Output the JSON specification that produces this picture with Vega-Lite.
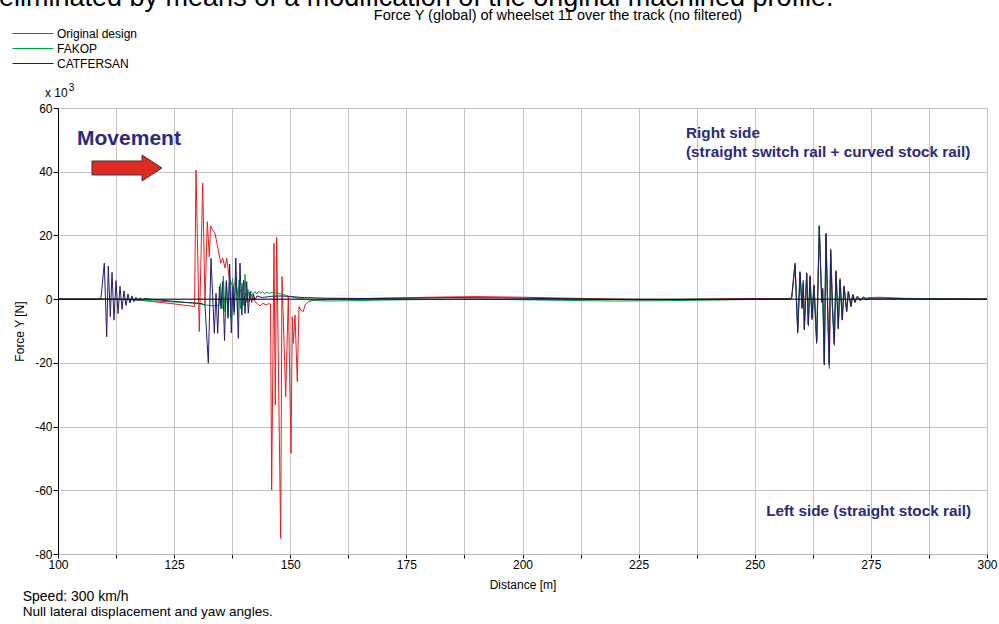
{
"$schema": "https://vega.github.io/schema/vega-lite/v6.json",
"autosize": {"type": "none"},
"width": 929, "height": 446,
"padding": {"left": 58, "top": 108, "right": 12, "bottom": 70},
"background": "white",
"config": {"font": "Liberation Sans", "view": {"stroke": null}},
"datasets": {
"series": [
{"series":"Original design","distance":100,"force":0},{"series":"Original design","distance":110,"force":0},{"series":"Original design","distance":115,"force":0},{"series":"Original design","distance":120,"force":-0.7},{"series":"Original design","distance":125,"force":-1.5},{"series":"Original design","distance":129.4,"force":-2.3},{"series":"Original design","distance":129.71,"force":40.5},{"series":"Original design","distance":130.42,"force":-10.2},{"series":"Original design","distance":131.15,"force":36.4},{"series":"Original design","distance":131.65,"force":-1.9},{"series":"Original design","distance":132.14,"force":24.3},{"series":"Original design","distance":132.57,"force":13.3},{"series":"Original design","distance":132.83,"force":23.0},{"series":"Original design","distance":133.3,"force":21.7},{"series":"Original design","distance":133.8,"force":20.7},{"series":"Original design","distance":134.51,"force":15.4},{"series":"Original design","distance":135.03,"force":11.3},{"series":"Original design","distance":135.46,"force":12.9},{"series":"Original design","distance":135.95,"force":9.8},{"series":"Original design","distance":136.32,"force":12.9},{"series":"Original design","distance":136.88,"force":6.6},{"series":"Original design","distance":137.61,"force":3.9},{"series":"Original design","distance":138.26,"force":5.5},{"series":"Original design","distance":138.82,"force":0.7},{"series":"Original design","distance":139.4,"force":3.0},{"series":"Original design","distance":139.94,"force":-0.5},{"series":"Original design","distance":140.47,"force":2.0},{"series":"Original design","distance":141.01,"force":-1.0},{"series":"Original design","distance":141.7,"force":1.5},{"series":"Original design","distance":142.41,"force":-0.8},{"series":"Original design","distance":142.95,"force":-1.5},{"series":"Original design","distance":143.49,"force":-2.1},{"series":"Original design","distance":144.13,"force":-1.3},{"series":"Original design","distance":144.78,"force":-1.8},{"series":"Original design","distance":145.43,"force":-1.4},{"series":"Original design","distance":145.75,"force":-1.6},{"series":"Original design","distance":146.0,"force":-59.9},{"series":"Original design","distance":146.5,"force":17.5},{"series":"Original design","distance":146.78,"force":-33.2},{"series":"Original design","distance":147.08,"force":19.4},{"series":"Original design","distance":147.94,"force":-75.1},{"series":"Original design","distance":148.22,"force":7.1},{"series":"Original design","distance":149.02,"force":-30.6},{"series":"Original design","distance":149.58,"force":1.0},{"series":"Original design","distance":150.16,"force":-48.4},{"series":"Original design","distance":150.44,"force":-5.5},{"series":"Original design","distance":150.66,"force":-13.9},{"series":"Original design","distance":151.02,"force":-5.0},{"series":"Original design","distance":151.52,"force":-25.9},{"series":"Original design","distance":151.88,"force":-2.4},{"series":"Original design","distance":152.25,"force":-3.4},{"series":"Original design","distance":152.81,"force":-3.9},{"series":"Original design","distance":153.18,"force":-1.8},{"series":"Original design","distance":153.89,"force":-0.8},{"series":"Original design","distance":154.96,"force":-0.3},{"series":"Original design","distance":160,"force":0},{"series":"Original design","distance":170,"force":0.3},{"series":"Original design","distance":180,"force":0.6},{"series":"Original design","distance":190,"force":0.8},{"series":"Original design","distance":200,"force":0.6},{"series":"Original design","distance":210,"force":0.3},{"series":"Original design","distance":220,"force":0},{"series":"Original design","distance":230,"force":-0.2},{"series":"Original design","distance":240,"force":0},{"series":"Original design","distance":250,"force":0.2},{"series":"Original design","distance":257.62,"force":0.2},{"series":"Original design","distance":257.98,"force":0.5},{"series":"Original design","distance":258.7,"force":10.5},{"series":"Original design","distance":259.28,"force":-9.5},{"series":"Original design","distance":259.77,"force":8.0},{"series":"Original design","distance":260.2,"force":-2.5},{"series":"Original design","distance":260.48,"force":5.5},{"series":"Original design","distance":260.7,"force":-9.0},{"series":"Original design","distance":261.21,"force":8.3},{"series":"Original design","distance":261.56,"force":-8.5},{"series":"Original design","distance":261.92,"force":7.5},{"series":"Original design","distance":262.35,"force":-6.5},{"series":"Original design","distance":262.78,"force":4.5},{"series":"Original design","distance":263.36,"force":-13.0},{"series":"Original design","distance":263.92,"force":22.0},{"series":"Original design","distance":264.44,"force":-0.5},{"series":"Original design","distance":264.65,"force":3.5},{"series":"Original design","distance":265.0,"force":-20.0},{"series":"Original design","distance":265.36,"force":20.0},{"series":"Original design","distance":265.75,"force":-4.5},{"series":"Original design","distance":266.07,"force":-21.8},{"series":"Original design","distance":266.37,"force":15.8},{"series":"Original design","distance":266.76,"force":-2.5},{"series":"Original design","distance":267.15,"force":-14.5},{"series":"Original design","distance":267.52,"force":9.0},{"series":"Original design","distance":268.01,"force":-9.0},{"series":"Original design","distance":268.38,"force":6.5},{"series":"Original design","distance":268.87,"force":-6.3},{"series":"Original design","distance":269.24,"force":4.2},{"series":"Original design","distance":269.82,"force":-3.6},{"series":"Original design","distance":270.17,"force":2.5},{"series":"Original design","distance":270.75,"force":-2.0},{"series":"Original design","distance":271.12,"force":1.6},{"series":"Original design","distance":271.61,"force":-0.7},{"series":"Original design","distance":272.11,"force":1.0},{"series":"Original design","distance":272.69,"force":-0.1},{"series":"Original design","distance":273.4,"force":0.7},{"series":"Original design","distance":273.98,"force":0.3},{"series":"Original design","distance":274.84,"force":0.5},{"series":"Original design","distance":277,"force":0.6},{"series":"Original design","distance":280,"force":0.3},{"series":"Original design","distance":290,"force":0.1},{"series":"Original design","distance":300,"force":0},

{"series":"FAKOP","distance":100,"force":0},{"series":"FAKOP","distance":110,"force":0},{"series":"FAKOP","distance":115,"force":-0.2},{"series":"FAKOP","distance":120,"force":-0.5},{"series":"FAKOP","distance":125,"force":-0.9},{"series":"FAKOP","distance":129.5,"force":-1.2},{"series":"FAKOP","distance":131.6,"force":-1.8},{"series":"FAKOP","distance":133.5,"force":-2.1},{"series":"FAKOP","distance":134.66,"force":-2.0},{"series":"FAKOP","distance":134.98,"force":5.0},{"series":"FAKOP","distance":135.31,"force":-3.0},{"series":"FAKOP","distance":135.59,"force":7.2},{"series":"FAKOP","distance":135.95,"force":-4.0},{"series":"FAKOP","distance":136.28,"force":6.0},{"series":"FAKOP","distance":136.6,"force":-5.0},{"series":"FAKOP","distance":136.92,"force":5.5},{"series":"FAKOP","distance":137.24,"force":-6.0},{"series":"FAKOP","distance":137.57,"force":6.5},{"series":"FAKOP","distance":137.89,"force":-5.0},{"series":"FAKOP","distance":138.32,"force":7.0},{"series":"FAKOP","distance":138.64,"force":-4.0},{"series":"FAKOP","distance":138.97,"force":6.0},{"series":"FAKOP","distance":139.29,"force":-3.0},{"series":"FAKOP","distance":139.61,"force":5.0},{"series":"FAKOP","distance":139.94,"force":-2.0},{"series":"FAKOP","distance":140.26,"force":7.8},{"series":"FAKOP","distance":140.58,"force":-1.0},{"series":"FAKOP","distance":140.9,"force":3.0},{"series":"FAKOP","distance":141.23,"force":0.0},{"series":"FAKOP","distance":141.55,"force":2.5},{"series":"FAKOP","distance":142.0,"force":1.4},{"series":"FAKOP","distance":142.4,"force":2.4},{"series":"FAKOP","distance":142.8,"force":1.6},{"series":"FAKOP","distance":143.2,"force":2.5},{"series":"FAKOP","distance":143.6,"force":1.8},{"series":"FAKOP","distance":144.0,"force":2.4},{"series":"FAKOP","distance":144.5,"force":1.7},{"series":"FAKOP","distance":145.0,"force":2.2},{"series":"FAKOP","distance":145.5,"force":1.8},{"series":"FAKOP","distance":146.0,"force":2.1},{"series":"FAKOP","distance":147.0,"force":1.9},{"series":"FAKOP","distance":148.0,"force":1.6},{"series":"FAKOP","distance":149.0,"force":1.2},{"series":"FAKOP","distance":150.0,"force":0.8},{"series":"FAKOP","distance":151.0,"force":0.5},{"series":"FAKOP","distance":152.0,"force":0.2},{"series":"FAKOP","distance":153.0,"force":0.0},{"series":"FAKOP","distance":155.0,"force":-0.4},{"series":"FAKOP","distance":158.0,"force":-0.6},{"series":"FAKOP","distance":162.0,"force":-0.5},{"series":"FAKOP","distance":170.0,"force":-0.3},{"series":"FAKOP","distance":180.0,"force":-0.1},{"series":"FAKOP","distance":190.0,"force":0.0},{"series":"FAKOP","distance":200.0,"force":-0.2},{"series":"FAKOP","distance":210.0,"force":-0.4},{"series":"FAKOP","distance":220.0,"force":-0.6},{"series":"FAKOP","distance":230.0,"force":-0.5},{"series":"FAKOP","distance":240.0,"force":-0.3},{"series":"FAKOP","distance":250.0,"force":-0.1},{"series":"FAKOP","distance":257.57,"force":0.1},{"series":"FAKOP","distance":257.93,"force":0.6},{"series":"FAKOP","distance":258.65,"force":10.8},{"series":"FAKOP","distance":259.23,"force":-10.0},{"series":"FAKOP","distance":259.72,"force":8.2},{"series":"FAKOP","distance":260.15,"force":-2.0},{"series":"FAKOP","distance":260.43,"force":6.0},{"series":"FAKOP","distance":260.65,"force":-9.2},{"series":"FAKOP","distance":261.16,"force":7.6},{"series":"FAKOP","distance":261.51,"force":-7.8},{"series":"FAKOP","distance":261.87,"force":6.8},{"series":"FAKOP","distance":262.3,"force":-5.5},{"series":"FAKOP","distance":262.73,"force":4.5},{"series":"FAKOP","distance":263.31,"force":-13.5},{"series":"FAKOP","distance":263.87,"force":23.2},{"series":"FAKOP","distance":264.39,"force":-0.5},{"series":"FAKOP","distance":264.6,"force":3.2},{"series":"FAKOP","distance":264.95,"force":-20.2},{"series":"FAKOP","distance":265.31,"force":20.4},{"series":"FAKOP","distance":265.7,"force":-4.5},{"series":"FAKOP","distance":266.02,"force":-20.8},{"series":"FAKOP","distance":266.32,"force":15.0},{"series":"FAKOP","distance":266.71,"force":-2.5},{"series":"FAKOP","distance":267.1,"force":-14.2},{"series":"FAKOP","distance":267.47,"force":8.8},{"series":"FAKOP","distance":267.96,"force":-9.4},{"series":"FAKOP","distance":268.33,"force":6.2},{"series":"FAKOP","distance":268.82,"force":-6.6},{"series":"FAKOP","distance":269.19,"force":4.0},{"series":"FAKOP","distance":269.77,"force":-4.0},{"series":"FAKOP","distance":270.12,"force":2.4},{"series":"FAKOP","distance":270.7,"force":-2.2},{"series":"FAKOP","distance":271.07,"force":1.5},{"series":"FAKOP","distance":271.56,"force":-0.8},{"series":"FAKOP","distance":272.06,"force":0.9},{"series":"FAKOP","distance":272.64,"force":-0.2},{"series":"FAKOP","distance":273.35,"force":0.6},{"series":"FAKOP","distance":273.93,"force":0.2},{"series":"FAKOP","distance":274.8,"force":0.4},{"series":"FAKOP","distance":278,"force":0.5},{"series":"FAKOP","distance":282,"force":0.2},{"series":"FAKOP","distance":290,"force":0.1},{"series":"FAKOP","distance":300,"force":0},

{"series":"CATFERSAN","distance":100,"force":0},{"series":"CATFERSAN","distance":108.5,"force":0},{"series":"CATFERSAN","distance":109.26,"force":0.4},{"series":"CATFERSAN","distance":109.97,"force":11.3},{"series":"CATFERSAN","distance":110.48,"force":-11.8},{"series":"CATFERSAN","distance":110.83,"force":10.4},{"series":"CATFERSAN","distance":111.26,"force":-5.5},{"series":"CATFERSAN","distance":111.63,"force":8.4},{"series":"CATFERSAN","distance":112.06,"force":-6.6},{"series":"CATFERSAN","distance":112.49,"force":5.8},{"series":"CATFERSAN","distance":112.92,"force":-4.5},{"series":"CATFERSAN","distance":113.35,"force":4.0},{"series":"CATFERSAN","distance":113.78,"force":-3.2},{"series":"CATFERSAN","distance":114.21,"force":2.6},{"series":"CATFERSAN","distance":114.64,"force":-2.0},{"series":"CATFERSAN","distance":115.07,"force":1.6},{"series":"CATFERSAN","distance":115.5,"force":-1.2},{"series":"CATFERSAN","distance":115.93,"force":1.0},{"series":"CATFERSAN","distance":116.36,"force":-0.8},{"series":"CATFERSAN","distance":116.79,"force":0.6},{"series":"CATFERSAN","distance":117.22,"force":-0.5},{"series":"CATFERSAN","distance":117.65,"force":0.4},{"series":"CATFERSAN","distance":118.08,"force":-0.3},{"series":"CATFERSAN","distance":118.73,"force":0.2},{"series":"CATFERSAN","distance":119.81,"force":0},{"series":"CATFERSAN","distance":122,"force":-0.3},{"series":"CATFERSAN","distance":125,"force":-0.7},{"series":"CATFERSAN","distance":128,"force":-1.1},{"series":"CATFERSAN","distance":131.0,"force":-1.4},{"series":"CATFERSAN","distance":131.65,"force":-1.9},{"series":"CATFERSAN","distance":132.36,"force":-20.1},{"series":"CATFERSAN","distance":132.94,"force":12.8},{"series":"CATFERSAN","distance":133.65,"force":-10.7},{"series":"CATFERSAN","distance":134.02,"force":1.8},{"series":"CATFERSAN","distance":134.38,"force":-10.7},{"series":"CATFERSAN","distance":134.77,"force":4.0},{"series":"CATFERSAN","distance":135.09,"force":-3.0},{"series":"CATFERSAN","distance":135.46,"force":5.5},{"series":"CATFERSAN","distance":135.85,"force":-13.0},{"series":"CATFERSAN","distance":136.23,"force":5.5},{"series":"CATFERSAN","distance":136.6,"force":-6.0},{"series":"CATFERSAN","distance":136.96,"force":11.0},{"series":"CATFERSAN","distance":137.31,"force":-10.6},{"series":"CATFERSAN","distance":137.67,"force":4.0},{"series":"CATFERSAN","distance":137.95,"force":-4.0},{"series":"CATFERSAN","distance":138.28,"force":12.9},{"series":"CATFERSAN","distance":138.82,"force":-12.3},{"series":"CATFERSAN","distance":139.18,"force":11.3},{"series":"CATFERSAN","distance":139.57,"force":-5.0},{"series":"CATFERSAN","distance":139.94,"force":6.0},{"series":"CATFERSAN","distance":140.26,"force":-4.5},{"series":"CATFERSAN","distance":140.62,"force":5.5},{"series":"CATFERSAN","distance":140.97,"force":-4.4},{"series":"CATFERSAN","distance":141.33,"force":2.3},{"series":"CATFERSAN","distance":141.7,"force":-1.0},{"series":"CATFERSAN","distance":142.09,"force":1.5},{"series":"CATFERSAN","distance":142.41,"force":-0.3},{"series":"CATFERSAN","distance":142.84,"force":1.0},{"series":"CATFERSAN","distance":144,"force":0.5},{"series":"CATFERSAN","distance":146,"force":0.9},{"series":"CATFERSAN","distance":148,"force":1.0},{"series":"CATFERSAN","distance":150,"force":0.8},{"series":"CATFERSAN","distance":153,"force":0.5},{"series":"CATFERSAN","distance":158,"force":0.3},{"series":"CATFERSAN","distance":165,"force":0.2},{"series":"CATFERSAN","distance":175,"force":0.3},{"series":"CATFERSAN","distance":185,"force":0.5},{"series":"CATFERSAN","distance":195,"force":0.4},{"series":"CATFERSAN","distance":205,"force":0.2},{"series":"CATFERSAN","distance":215,"force":0},{"series":"CATFERSAN","distance":225,"force":-0.2},{"series":"CATFERSAN","distance":235,"force":-0.1},{"series":"CATFERSAN","distance":245,"force":0},{"series":"CATFERSAN","distance":257.59,"force":0},{"series":"CATFERSAN","distance":257.95,"force":0.3},{"series":"CATFERSAN","distance":258.67,"force":11.3},{"series":"CATFERSAN","distance":259.25,"force":-10.7},{"series":"CATFERSAN","distance":259.74,"force":8.6},{"series":"CATFERSAN","distance":260.17,"force":-3.0},{"series":"CATFERSAN","distance":260.45,"force":5.0},{"series":"CATFERSAN","distance":260.67,"force":-9.7},{"series":"CATFERSAN","distance":261.18,"force":8.1},{"series":"CATFERSAN","distance":261.53,"force":-8.1},{"series":"CATFERSAN","distance":261.89,"force":7.0},{"series":"CATFERSAN","distance":262.32,"force":-6.0},{"series":"CATFERSAN","distance":262.75,"force":4.0},{"series":"CATFERSAN","distance":263.33,"force":-13.9},{"series":"CATFERSAN","distance":263.89,"force":22.9},{"series":"CATFERSAN","distance":264.41,"force":-1.0},{"series":"CATFERSAN","distance":264.62,"force":3.0},{"series":"CATFERSAN","distance":264.97,"force":-20.7},{"series":"CATFERSAN","distance":265.33,"force":20.7},{"series":"CATFERSAN","distance":265.72,"force":-5.0},{"series":"CATFERSAN","distance":266.04,"force":-20.5},{"series":"CATFERSAN","distance":266.34,"force":15.2},{"series":"CATFERSAN","distance":266.73,"force":-3.0},{"series":"CATFERSAN","distance":267.12,"force":-13.9},{"series":"CATFERSAN","distance":267.49,"force":8.6},{"series":"CATFERSAN","distance":267.98,"force":-9.2},{"series":"CATFERSAN","distance":268.35,"force":6.0},{"series":"CATFERSAN","distance":268.84,"force":-6.5},{"series":"CATFERSAN","distance":269.21,"force":3.9},{"series":"CATFERSAN","distance":269.79,"force":-3.9},{"series":"CATFERSAN","distance":270.14,"force":2.3},{"series":"CATFERSAN","distance":270.72,"force":-2.4},{"series":"CATFERSAN","distance":271.09,"force":1.3},{"series":"CATFERSAN","distance":271.58,"force":-1.1},{"series":"CATFERSAN","distance":272.08,"force":0.7},{"series":"CATFERSAN","distance":272.66,"force":-0.5},{"series":"CATFERSAN","distance":273.37,"force":0.4},{"series":"CATFERSAN","distance":273.95,"force":-0.2},{"series":"CATFERSAN","distance":274.81,"force":0.1},{"series":"CATFERSAN","distance":280,"force":0.1},{"series":"CATFERSAN","distance":300,"force":0}
],
"one": [{}]
},
"layer": [
{
"data": {"name": "series"},
"mark": {"type": "line", "strokeWidth": 1},
"encoding": {
"x": {"field": "distance", "type": "quantitative", "scale": {"domain": [100, 300], "nice": false, "zero": false},
 "axis": {"values": [100,112.5,125,137.5,150,162.5,175,187.5,200,212.5,225,237.5,250,262.5,275,287.5,300],
 "labelExpr": "datum.value % 25 == 0 ? '' + datum.value : ''", "labelFlush": false, "labelOverlap": false, "grid": true, "gridColor": "#c3c3c3", "gridWidth": 1,
 "domainColor": "#b8b8b8", "tickColor": "black", "tickSize": 4, "labelFontSize": 12, "labelColor": "black", "labelPadding": 1,
 "title": "Distance [m]", "titleFontSize": 12, "titleFontWeight": "normal", "titleColor": "black", "titleBaseline": "alphabetic", "titleY": 34}},
"y": {"field": "force", "type": "quantitative", "scale": {"domain": [-80, 60], "nice": false, "zero": false},
 "axis": {"values": [-80,-70,-60,-50,-40,-30,-20,-10,0,10,20,30,40,50,60],
 "labelExpr": "datum.value % 20 == 0 ? '' + datum.value : ''", "labelFlush": false, "labelOverlap": false, "grid": true, "gridColor": "#c3c3c3", "gridWidth": 1,
 "domainColor": "black", "tickColor": "black", "tickSize": 5, "labelFontSize": 12, "labelColor": "black", "labelPadding": 1,
 "title": "Force Y [N]", "titleFontSize": 12, "titleFontWeight": "normal", "titleColor": "black", "titleAngle": -90, "titleAlign": "center", "titleBaseline": "alphabetic", "titleX": -35, "titleY": 223}},
"color": {"field": "series", "type": "nominal",
 "scale": {"domain": ["Original design", "FAKOP", "CATFERSAN"], "range": ["#e41f1f", "#00a03c", "#231d6e"]},
 "legend": {"orient": "none", "legendX": -46, "legendY": -80.5, "title": null, "symbolType": "stroke", "symbolSize": 1681, "symbolStrokeWidth": 1, "clipHeight": 12, "rowPadding": 3, "labelFontSize": 12, "labelColor": "black", "labelOffset": 3, "padding": 0,
  "encode": {"symbols": {"update": {"stroke": {"scale": "color", "field": "value"}}}}}}
}
},
{"data": {"name": "one"}, "mark": {"type": "rule", "color": "black", "strokeWidth": 1},
 "encoding": {"y": {"datum": 0, "type": "quantitative"}}},
{"data": {"name": "one"}, "mark": {"type": "point", "shape": "M-1,-0.2L0.43,-0.2L0.43,-0.371L1,0L0.43,0.371L0.43,0.2L-1,0.2Z", "size": 4900, "filled": true, "fill": "#dd2a22", "fillOpacity": 1, "stroke": "#3a3a3a", "strokeWidth": 1, "strokeOpacity": 1, "opacity": 1},
 "encoding": {"x": {"datum": 114.85, "type": "quantitative"}, "y": {"datum": 41.17, "type": "quantitative"}}},
{"data": {"name": "one"}, "mark": {"type": "text", "text": "Movement", "fontSize": 21, "fontWeight": "bold", "color": "#2b2a7c", "align": "left", "baseline": "alphabetic"},
 "encoding": {"x": {"datum": 104.1, "type": "quantitative"}, "y": {"datum": 48.4, "type": "quantitative"}}},
{"data": {"name": "one"}, "mark": {"type": "text", "text": "Right side", "fontSize": 15.3, "fontWeight": "bold", "color": "#2b2a7c", "align": "left", "baseline": "alphabetic"},
 "encoding": {"x": {"datum": 235.2, "type": "quantitative"}, "y": {"datum": 50.58, "type": "quantitative"}}},
{"data": {"name": "one"}, "mark": {"type": "text", "text": "(straight switch rail + curved stock rail)", "fontSize": 15.3, "fontWeight": "bold", "color": "#2b2a7c", "align": "left", "baseline": "alphabetic"},
 "encoding": {"x": {"datum": 235.2, "type": "quantitative"}, "y": {"datum": 44.62, "type": "quantitative"}}},
{"data": {"name": "one"}, "mark": {"type": "text", "text": "Left side (straight stock rail)", "fontSize": 15.3, "fontWeight": "bold", "color": "#2b2a7c", "align": "right", "baseline": "alphabetic"},
 "encoding": {"x": {"datum": 296.56, "type": "quantitative"}, "y": {"datum": -68.06, "type": "quantitative"}}},
{"data": {"name": "one"}, "mark": {"type": "text", "text": "x 10", "fontSize": 12, "color": "black", "align": "left", "baseline": "alphabetic"},
 "encoding": {"x": {"datum": 97.2, "type": "quantitative"}, "y": {"datum": 63.6, "type": "quantitative"}}},
{"data": {"name": "one"}, "mark": {"type": "text", "text": "3", "fontSize": 10, "color": "black", "align": "left", "baseline": "alphabetic"},
 "encoding": {"x": {"datum": 102.3, "type": "quantitative"}, "y": {"datum": 65.3, "type": "quantitative"}}},
{"data": {"name": "one"}, "mark": {"type": "text", "text": "Speed: 300 km/h", "fontSize": 14, "color": "black", "align": "left", "baseline": "alphabetic"},
 "encoding": {"x": {"datum": 92.4, "type": "quantitative"}, "y": {"datum": -94.9, "type": "quantitative"}}},
{"data": {"name": "one"}, "mark": {"type": "text", "text": "Null lateral displacement and yaw angles.", "fontSize": 13.6, "color": "black", "align": "left", "baseline": "alphabetic"},
 "encoding": {"x": {"datum": 92.4, "type": "quantitative"}, "y": {"datum": -99.6, "type": "quantitative"}}},
{"data": {"name": "one"}, "mark": {"type": "text", "text": "eliminated by means of a modification of the original machined profile.", "fontSize": 27, "color": "black", "align": "left", "baseline": "alphabetic"},
 "encoding": {"x": {"datum": 87.3, "type": "quantitative"}, "y": {"datum": 91.9, "type": "quantitative"}}},
{"data": {"name": "one"}, "mark": {"type": "text", "text": "Force Y (global) of wheelset 11 over the track (no filtered)", "fontSize": 14.5, "color": "black", "align": "center", "baseline": "alphabetic"},
 "encoding": {"x": {"datum": 207.64, "type": "quantitative"}, "y": {"datum": 87.6, "type": "quantitative"}}}
]
}
